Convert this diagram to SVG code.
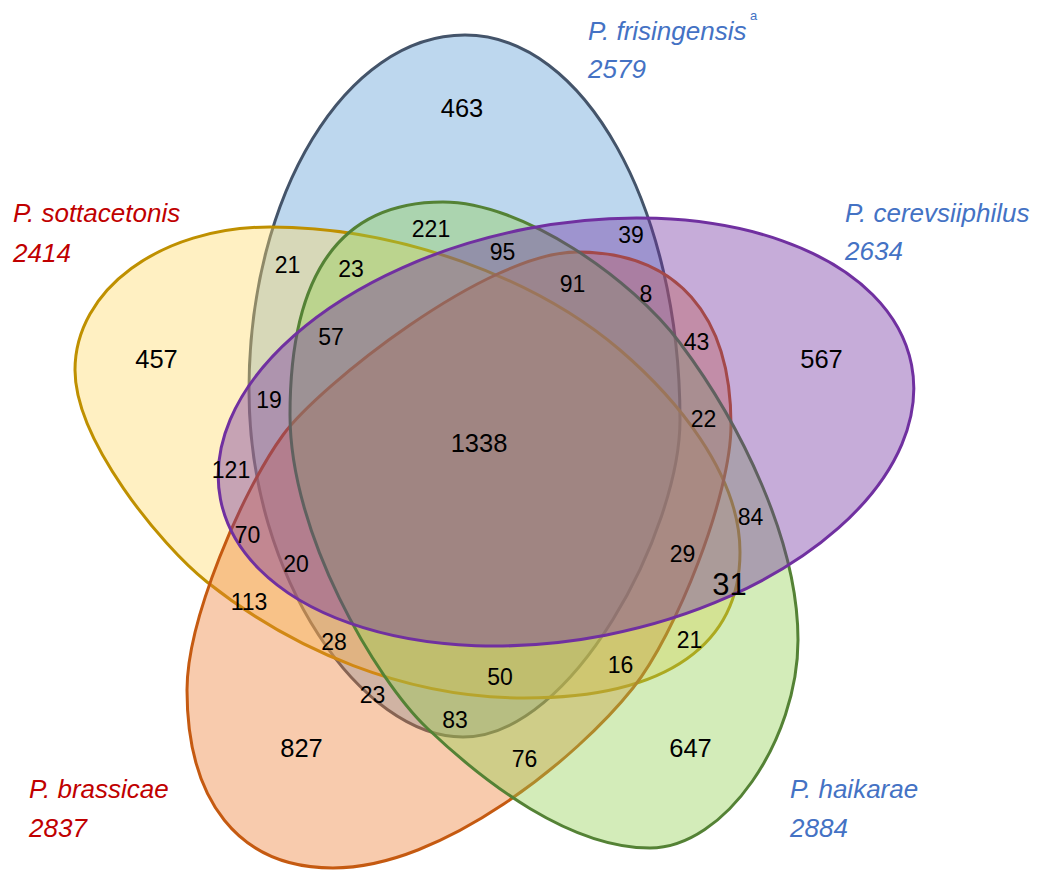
<svg xmlns="http://www.w3.org/2000/svg" width="1041" height="870" viewBox="0 0 1041 870">
<style>
.set{fill-opacity:0.4;stroke-width:3}
.lbl{font-family:"Liberation Sans",Arial,sans-serif;font-style:italic;font-size:26px}
.blue{fill:#4472C4}
.red{fill:#C00000}
.n{font-family:"Liberation Sans",Arial,sans-serif;font-size:23px;fill:#000;text-anchor:middle}
.big{font-size:25.5px}
</style>
<rect width="1041" height="870" fill="#fff"/>
<g id="frisingensis">
<path class="set" fill="#5B9BD5" stroke="#44546A" d="M465,35 C584,35 680,207 680,420 C680,530 573,737 463,737 C363,737 249,580 249,390 C249,194 346,35 465,35 Z"/>
<text class="lbl blue" x="588" y="40">P. frisingensis</text>
<text class="lbl blue" x="750" y="20" style="font-size:13px;font-style:normal">a</text>
<text class="lbl blue" x="588" y="78">2579</text>
</g>
<g id="sottacetonis">
<path class="set" fill="#FFD966" stroke="#BF9000" d="M270,227 C400,227 536,278.5 620,350 C673,395.5 740,472 740,552 C740,642 670,698 525,698 C405,698 292.8,650.2 207,582 C160.2,544.8 75,440 75,370 C75,290 160,227 270,227 Z"/>
<text class="lbl red" x="13" y="222">P. sottacetonis</text>
<text class="lbl red" x="13" y="262">2414</text>
</g>
<g id="brassicae">
<path class="set" fill="#ED7D31" stroke="#C55A11" d="M577,252 C677,252 731,315 731,425 C731,495 676.4,633.4 633,688 C577.2,758.2 443,868 333,868 C238,868 187,800 187,690 C187,620 241.7,491.7 283,435 C318.4,386.4 487,252 577,252 Z"/>
<text class="lbl red" x="29" y="798">P. brassicae</text>
<text class="lbl red" x="29" y="837">2837</text>
</g>
<g id="haikarae">
<path class="set" fill="#92D050" stroke="#548235" d="M443,202 C523,202 632,279 680,343 C740,423 798,540 798,640 C798,740 725,848 650,848 C570,848 485,783.2 427,728 C376.25,679.7 290,535 290,415 C290,285 333,202 443,202 Z"/>
<text class="lbl blue" x="790" y="798">P. haikarae</text>
<text class="lbl blue" x="790" y="837">2884</text>
</g>
<g id="cerevsiiphilus">
<ellipse class="set" fill="#7030A0" stroke="#7030A0" cx="566" cy="432" rx="352" ry="207" transform="rotate(-11 566 432)"/>
<text class="lbl blue" x="845" y="222">P. cerevsiiphilus</text>
<text class="lbl blue" x="845" y="260">2634</text>
</g>
<g id="regions">
<text class="n big" x="462" y="117">463</text>
<text class="n" x="431" y="237">221</text>
<text class="n" x="502.5" y="260">95</text>
<text class="n" x="287.5" y="273">21</text>
<text class="n" x="351" y="277">23</text>
<text class="n big" x="156.5" y="368">457</text>
<text class="n" x="331" y="345">57</text>
<text class="n" x="269" y="408">19</text>
<text class="n" x="631" y="243">39</text>
<text class="n" x="572.5" y="292">91</text>
<text class="n" x="646" y="302">8</text>
<text class="n" x="696.5" y="350">43</text>
<text class="n big" x="821.5" y="368">567</text>
<text class="n" x="703.5" y="427">22</text>
<text class="n big" x="479" y="452">1338</text>
<text class="n" x="231" y="478">121</text>
<text class="n" x="247.5" y="543">70</text>
<text class="n" x="296" y="572">20</text>
<text class="n" x="249" y="610">113</text>
<text class="n" x="334" y="650">28</text>
<text class="n" x="372.5" y="703">23</text>
<text class="n" x="455" y="728">83</text>
<text class="n" x="500" y="685">50</text>
<text class="n big" x="301.5" y="757">827</text>
<text class="n" x="524.5" y="767">76</text>
<text class="n" x="750.5" y="525">84</text>
<text class="n" x="682.5" y="562">29</text>
<text class="n" x="729.5" y="595" style="font-size:31px">31</text>
<text class="n" x="689.5" y="648">21</text>
<text class="n" x="620.5" y="673">16</text>
<text class="n big" x="690.5" y="757">647</text>
</g>
</svg>
